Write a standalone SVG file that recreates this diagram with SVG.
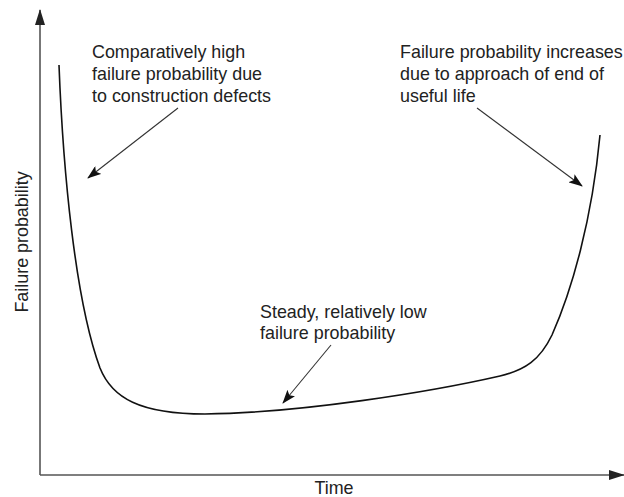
<svg xmlns="http://www.w3.org/2000/svg" width="624" height="497" viewBox="0 0 624 497">
  <style>
    .axis { stroke: #555; stroke-width: 1.6; fill: none; }
    .curve { stroke: #111; stroke-width: 1.6; fill: none; }
    .pointer { stroke: #333; stroke-width: 1.1; fill: none; marker-end: url(#head); }
    .label { font-family: "Liberation Sans", Arial, sans-serif; font-size: 17.9px; fill: #222; }
  </style>
  <defs>
    <marker id="head" viewBox="0 0 14 10" refX="13" refY="5" markerWidth="14" markerHeight="10" markerUnits="userSpaceOnUse" orient="auto">
      <path d="M0,0 L14,5 L0,10 L3,5 Z" fill="#111"/>
    </marker>
    <marker id="axisHead" viewBox="0 0 16 10" refX="15" refY="5" markerWidth="16" markerHeight="10" markerUnits="userSpaceOnUse" orient="auto">
      <path d="M0,0 L16,5 L0,10 Z" fill="#222"/>
    </marker>
  </defs>

  <!-- axes -->
  <g id="axes">
    <line class="axis" x1="40" y1="475" x2="40" y2="10" marker-end="url(#axisHead)"/>
    <line class="axis" x1="40" y1="475" x2="624" y2="475" marker-end="url(#axisHead)"/>
    <text class="label" x="334" y="494" text-anchor="middle">Time</text>
    <text class="label" transform="translate(28,242) rotate(-90)" text-anchor="middle">Failure probability</text>
  </g>

  <!-- bathtub curve -->
  <g id="curve">
    <path class="curve" d="M59,65 C63,170 75,300 100,368 C112,398 140,414 205,414 C300,413 430,392 500,376 C525,370 540,360 552,335 C572,290 592,220 600,135"/>
  </g>

  <!-- annotations -->
  <g id="early-failures">
    <text class="label" x="92" y="58">Comparatively high</text>
    <text class="label" x="92" y="80">failure probability due</text>
    <text class="label" x="92" y="101.5">to construction defects</text>
  </g>
  <g id="wear-out">
    <text class="label" x="400" y="58">Failure probability increases</text>
    <text class="label" x="400" y="80">due to approach of end of</text>
    <text class="label" x="400" y="101.5">useful life</text>
  </g>
  <g id="steady-state">
    <text class="label" x="260" y="318">Steady, relatively low</text>
    <text class="label" x="260" y="339">failure probability</text>
  </g>

  <!-- pointers -->
  <g id="connectors">
    <line class="pointer" x1="178" y1="108" x2="88" y2="178"/>
    <line class="pointer" x1="477" y1="108" x2="582" y2="186"/>
    <line class="pointer" x1="331" y1="345" x2="283" y2="403"/>
  </g>
</svg>
